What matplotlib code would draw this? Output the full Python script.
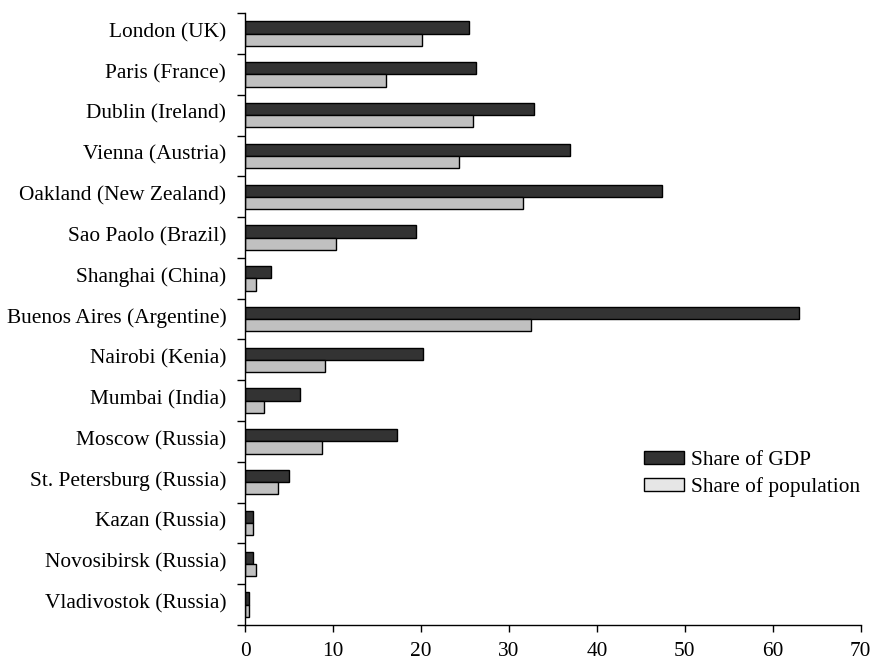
import matplotlib
matplotlib.use("Agg")
import matplotlib.pyplot as plt
import matplotlib.transforms as mtransforms
import numpy as np
from matplotlib.patches import Patch

plt.rcParams["font.family"] = ["Liberation Serif", "DejaVu Serif"]

cities = ["London (UK)", "Paris (France)", "Dublin (Ireland)", "Vienna (Austria)",
          "Oakland (New Zealand)", "Sao Paolo (Brazil)", "Shanghai (China)",
          "Buenos Aires (Argentine)", "Nairobi (Kenia)", "Mumbai (India)",
          "Moscow (Russia)", "St. Petersburg (Russia)", "Kazan (Russia)",
          "Novosibirsk (Russia)", "Vladivostok (Russia)"]
share_gdp = [25.5, 26.3, 32.9, 37.0, 47.4, 19.4, 2.9, 63.0, 20.2, 6.2, 17.3, 5.0, 0.9, 0.9, 0.45]
share_pop = [20.1, 16.0, 25.9, 24.3, 31.6, 10.3, 1.25, 32.5, 9.1, 2.1, 8.7, 3.75, 0.9, 1.3, 0.45]

dark = "#333333"
light = "#c0c0c0"
fs = 15.4

fig = plt.figure(figsize=(8.72, 6.61), dpi=100)
ax = fig.add_axes([0.281, 0.0545, 0.706, 0.9255])

y = np.arange(len(cities))
h = 0.3
ax.barh(y - h / 2, share_gdp, height=h, color=dark, edgecolor="black", linewidth=1)
ax.barh(y + h / 2, share_pop, height=h, color=light, edgecolor="black", linewidth=1)

ax.set_xlim(0, 70)
ax.set_ylim(len(cities) - 0.5, -0.5)
ax.set_xticks(np.arange(0, 71, 10))
ax.set_yticks(y)
ax.set_yticklabels(cities)
ax.set_yticks(np.arange(-0.5, len(cities)), minor=True)
ax.tick_params(axis="y", which="major", length=0, pad=13.5, labelsize=fs)
ax.tick_params(axis="y", which="minor", length=6, width=1, direction="out")
ax.tick_params(axis="x", length=5, width=1, direction="out", pad=7, labelsize=fs)

# city names sit a little above the bar pair centre in the original
shift = mtransforms.ScaledTranslation(0, 0.035, fig.dpi_scale_trans)
for lbl in ax.get_yticklabels():
    lbl.set_transform(lbl.get_transform() + shift)

for s in ["top", "right"]:
    ax.spines[s].set_visible(False)
for s in ["left", "bottom"]:
    ax.spines[s].set_linewidth(1)

handles = [Patch(facecolor=dark, edgecolor="black", label="Share of GDP"),
           Patch(facecolor="#e6e6e6", edgecolor="black", label="Share of population")]
ax.legend(handles=handles, loc="upper left", bbox_to_anchor=(0.616, 0.3155),
          frameon=False, fontsize=fs, handlelength=1.87, handleheight=0.56,
          handletextpad=0.33, labelspacing=0.3)

fig.savefig("out.png", dpi=100)
